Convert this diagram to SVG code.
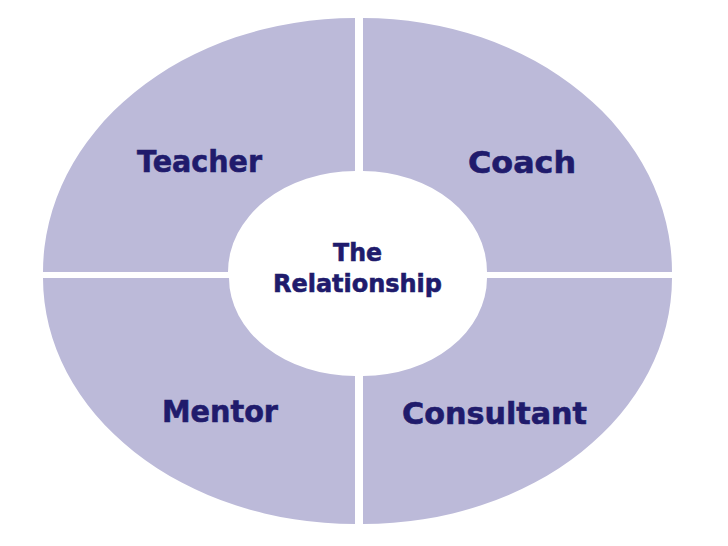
<svg xmlns="http://www.w3.org/2000/svg" width="728" height="546" viewBox="0 0 728 546">
<style>
.q{fill:#bcbad9;stroke:none}
.t{font-family:"DejaVu Sans","Liberation Sans",sans-serif;font-weight:bold;fill:#201b6c;stroke:#201b6c;stroke-width:0.6;text-anchor:middle}
.big{font-size:31px}
.mid{font-size:25px}
</style>
<rect width="728" height="546" fill="#ffffff"/>
<g id="teacher">
<path class="q" d="M 43 272 A 312 254 0 0 1 355 18 L 355 171 A 127 101 0 0 0 228 272 Z"/>
<text class="t big" x="199.5" y="172" textLength="125" lengthAdjust="spacingAndGlyphs">Teacher</text>
</g>
<g id="coach">
<path class="q" d="M 363 18 A 309 254 0 0 1 672 272 L 487 272 A 124 101 0 0 0 363 171 Z"/>
<text class="t big" x="522" y="173" textLength="108" lengthAdjust="spacingAndGlyphs">Coach</text>
</g>
<g id="mentor">
<path class="q" d="M 43 278 L 229 278 A 126 98 0 0 0 355 376 L 355 524 A 312 246 0 0 1 43 278 Z"/>
<text class="t big" x="220" y="422" textLength="116" lengthAdjust="spacingAndGlyphs">Mentor</text>
</g>
<g id="consultant">
<path class="q" d="M 487 278 L 672 278 A 309 246 0 0 1 363 524 L 363 376 A 124 98 0 0 0 487 278 Z"/>
<text class="t big" x="494.5" y="424" textLength="185" lengthAdjust="spacingAndGlyphs">Consultant</text>
</g>
<g id="relationship">
<text class="t mid" x="357.5" y="261" textLength="49" lengthAdjust="spacingAndGlyphs">The</text>
<text class="t mid" x="357.5" y="292" textLength="169" lengthAdjust="spacingAndGlyphs">Relationship</text>
</g>
<g id="connectors"></g>
</svg>
